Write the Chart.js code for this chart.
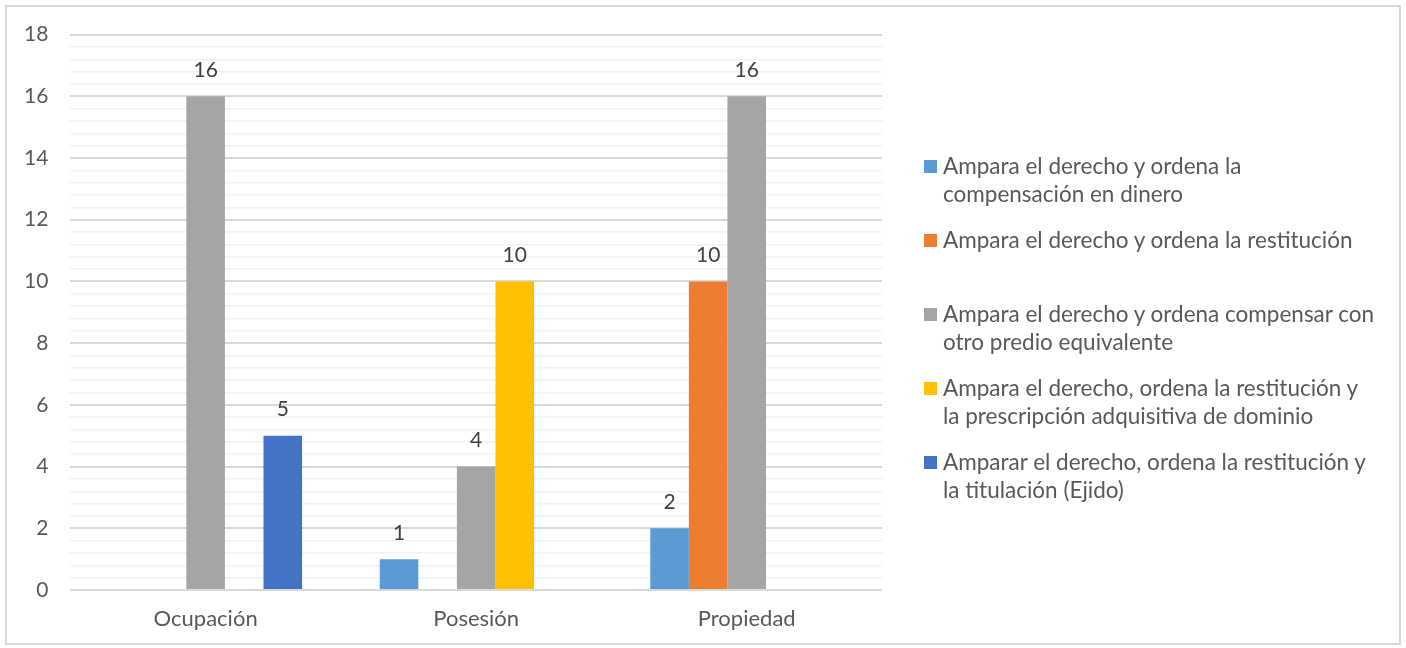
<!DOCTYPE html>
<html>
<head>
<meta charset="utf-8">
<script src="https://cdn.jsdelivr.net/npm/chart.js@4"></script>
<style>
  body { margin: 0; background: #fff; }
  #wrap { position: relative; width: 1406px; height: 648px; }
  #frame { position: absolute; left: 5px; top: 5px; width: 1392px; height: 636px; border: 2px solid #d9d9d9; }
  canvas { position: absolute; left: 0; top: 0; }
  #legend { position: absolute; left: 924px; top: 152px; font-family: Lato, sans-serif; font-size: 22.5px; color: #595959; }
  .item { position: absolute; left: 0; white-space: nowrap; line-height: 28px; }
  .box { position: absolute; left: 0; top: 8px; width: 13px; height: 13px; }
  .txt { position: absolute; left: 19px; top: 0; }
</style>
</head>
<body>
<div id="wrap">
  <div id="frame"></div>
  <canvas id="chart" width="1406" height="648"></canvas>
  <div id="legend"></div>
</div>
<script>
const categories = ['Ocupación', 'Posesión', 'Propiedad'];
const seriesNames = [
  ['Ampara el derecho y ordena la', 'compensación en dinero'],
  ['Ampara el derecho y ordena la restitución'],
  ['Ampara el derecho y ordena compensar con', 'otro predio equivalente'],
  ['Ampara el derecho, ordena la restitución y', 'la prescripción adquisitiva de dominio'],
  ['Amparar el derecho, ordena la restitución y', 'la titulación (Ejido)']
];
const compensacionDinero = [null, 1, 2];
const restitucion = [null, null, 10];
const otroPredio = [16, 4, 16];
const prescripcion = [null, 10, null];
const titulacion = [5, null, null];
const colors = ['#5b9bd5', '#ed7d31', '#a5a5a5', '#ffc000', '#4472c4'];
const seriesValues = [compensacionDinero, restitucion, otroPredio, prescripcion, titulacion];

const legend = document.getElementById('legend');
seriesNames.forEach((lines, i) => {
  const item = document.createElement('div');
  item.className = 'item';
  item.style.top = (i * 74) + 'px';
  item.innerHTML = '<div class="box" style="background:' + colors[i] + '"></div><div class="txt">' + lines.join('<br>') + '</div>';
  legend.appendChild(item);
});

const valueLabels = {
  id: 'valueLabels',
  afterDatasetsDraw(chart) {
    const ctx = chart.ctx;
    ctx.save();
    ctx.font = '21px Lato, sans-serif';
    ctx.fillStyle = '#404040';
    ctx.textAlign = 'center';
    ctx.textBaseline = 'middle';
    chart.data.datasets.forEach((ds, i) => {
      chart.getDatasetMeta(i).data.forEach((bar, j) => {
        if (ds.data[j] == null) return;
        ctx.fillText(ds.data[j], bar.x, bar.y - 26);
      });
    });
    ctx.restore();
  }
};

const isMajor = v => Math.abs(v / 2 - Math.round(v / 2)) < 1e-6;

new Chart(document.getElementById('chart'), {
  type: 'bar',
  data: {
    labels: categories,
    datasets: seriesValues.map((vals, i) => ({
      label: seriesNames[i].join(' '),
      data: vals,
      backgroundColor: colors[i],
      barPercentage: 1,
      categoryPercentage: 0.713
    }))
  },
  options: {
    responsive: false,
    animation: false,
    layout: { padding: { left: 2, right: 524, top: 27, bottom: 0 } },
    plugins: { legend: { display: false }, tooltip: { enabled: false } },
    scales: {
      x: {
        grid: { display: false, drawTicks: false },
        border: { display: false },
        ticks: { color: '#595959', font: { family: 'Lato', size: 22, lineHeight: 1 }, padding: 18 }
      },
      y: {
        min: 0,
        max: 18,
        border: { display: false },
        grid: {
          drawTicks: false,
          color: c => isMajor(c.tick.value) ? '#d9d9d9' : '#f2f2f2',
          lineWidth: c => isMajor(c.tick.value) ? 2 : 1.5
        },
        ticks: {
          stepSize: 0.4,
          autoSkip: false,
          padding: 22,
          color: '#595959',
          font: { family: 'Lato', size: 21 },
          callback: v => isMajor(v) ? Math.round(v) : ''
        }
      }
    }
  },
  plugins: [valueLabels]
});
</script>
</body>
</html>
